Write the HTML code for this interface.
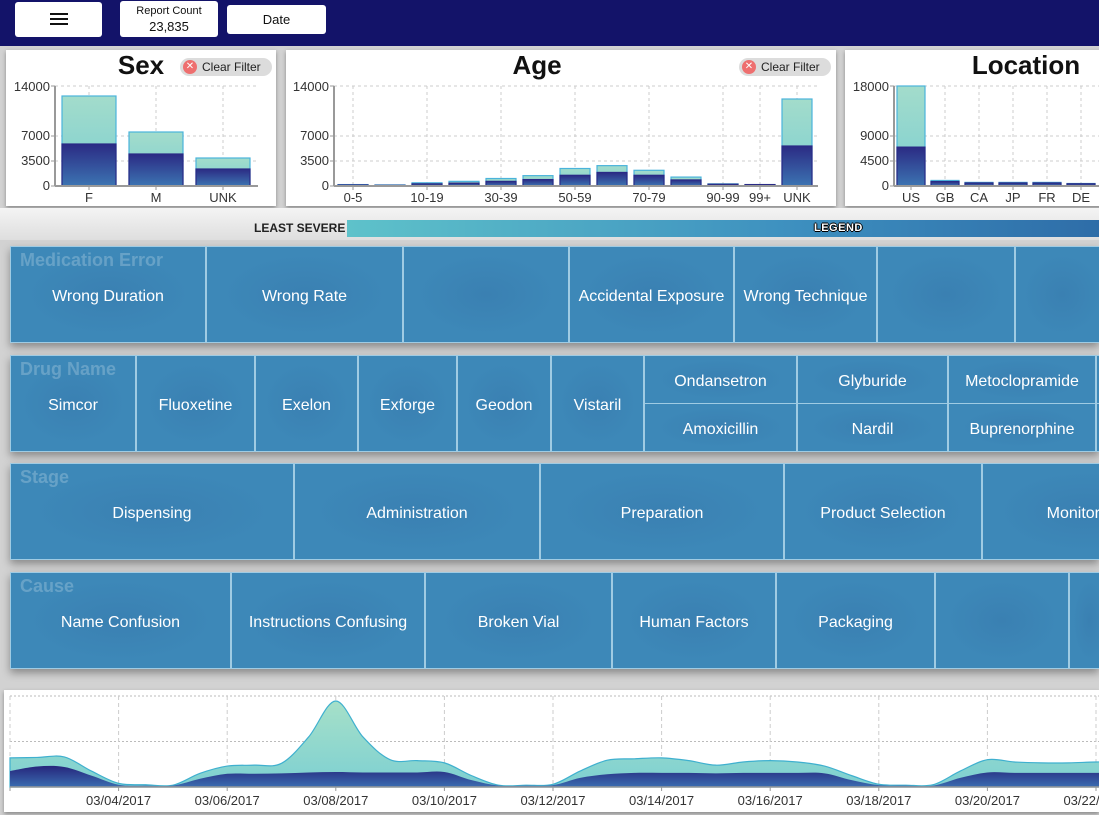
<!DOCTYPE html>
<html><head><meta charset="utf-8">
<style>
body{margin:0;width:1099px;height:815px;overflow:hidden;background:#d2d2d2;font-family:"Liberation Sans",sans-serif;position:relative}
#top{position:absolute;left:0;top:0;width:1099px;height:46px;background:#131369}
.btn{position:absolute;background:#fff;border-radius:3px;text-align:center;color:#111;font-size:13px}
.panel{position:absolute;top:50px;height:156px;background:#fff;box-shadow:0 2px 4px rgba(0,0,0,.35)}
.ptitle{position:absolute;top:50px;font-weight:bold;font-size:26px;color:#111;transform:translateX(-50%)}
.clear{position:absolute;top:58px;height:18px;width:92px;border-radius:9px;background:#dcdcdc;font-size:12px;color:#222;line-height:18px}
.clear i{position:absolute;left:3px;top:2px;width:14px;height:14px;border-radius:7px;background:#ee6f6f;color:#fff;font-style:normal;font-size:10px;line-height:14px;text-align:center}
.clear span{position:absolute;left:22px}
#hl{position:absolute;left:0;top:208px;width:1099px;height:32px;background:linear-gradient(#f4f4f4,#dedede)}
.row{position:absolute;left:10px;width:1089px;height:97px;background:#3d88b8;box-shadow:0 4px 8px rgba(0,0,0,.35);overflow:hidden}
.cell{position:absolute;box-sizing:border-box;border:1px solid #9fcbe3;color:#fff;font-size:16px;display:flex;align-items:center;justify-content:center;white-space:nowrap;padding-top:4px;background:radial-gradient(ellipse at center,#3a80b2 0%,#3d88b8 60%)}
.rt{position:absolute;left:10px;top:4px;font-weight:bold;font-size:18px;color:rgba(255,255,255,.22);z-index:2}
#bot{position:absolute;left:4px;top:690px;width:1095px;height:122px;background:#fff;box-shadow:0 2px 4px rgba(0,0,0,.35)}
svg text{font-family:"Liberation Sans",sans-serif}
</style></head><body>
<div id="top">
 <div class="btn" style="left:15px;top:2px;width:87px;height:35px">
  <div style="position:absolute;left:35px;top:11px;width:18px;height:2px;background:#111;box-shadow:0 5px 0 #111,0 10px 0 #111"></div></div>
 <div class="btn" style="left:120px;top:1px;width:98px;height:36px;font-size:11px;line-height:15px;padding-top:3px;box-sizing:border-box">Report Count<br><span style="font-size:13px">23,835</span></div>
 <div class="btn" style="left:227px;top:5px;width:99px;height:29px;line-height:29px">Date</div>
</div>
<div class="panel" style="left:6px;width:270px"></div>
<div class="panel" style="left:286px;width:550px"></div>
<div class="panel" style="left:845px;width:260px"></div>
<div class="ptitle" style="left:141px">Sex</div>
<div class="ptitle" style="left:537px">Age</div>
<div class="ptitle" style="left:1026px">Location</div>
<div class="clear" style="left:180px"><i>✕</i><span>Clear Filter</span></div>
<div class="clear" style="left:739px"><i>✕</i><span>Clear Filter</span></div>
<div id="hl">
 <div style="position:absolute;left:254px;top:13px;font-size:12px;font-weight:bold;color:#222">LEAST SEVERE</div>
 <div style="position:absolute;left:347px;top:12px;width:752px;height:17px;background:linear-gradient(90deg,#5ec2ca,#3d8fbf 60%,#2e6da8)">
  <div style="position:absolute;left:467px;top:2px;font-size:11px;font-weight:bold;color:#fff;letter-spacing:.5px;text-shadow:-1px 0 #000,1px 0 #000,0 -1px #000,0 1px #000">LEGEND</div></div>
</div>
<div id="rows"></div>
<div id="bot"></div>
<svg id="sv" width="1099" height="815" style="position:absolute;left:0;top:0;pointer-events:none">
<defs>
<linearGradient id="lg" x1="0" y1="0" x2="0" y2="1"><stop offset="0" stop-color="#a3dccb"/><stop offset="1" stop-color="#7ccfd2"/></linearGradient>
<linearGradient id="dg" x1="0" y1="0" x2="0" y2="1"><stop offset="0" stop-color="#2b2b84"/><stop offset="1" stop-color="#3c74b2"/></linearGradient>
<linearGradient id="alg" x1="0" y1="0" x2="0" y2="1"><stop offset="0" stop-color="#a6e0c8"/><stop offset="1" stop-color="#7dd0d2"/></linearGradient>
<linearGradient id="adg" x1="0" y1="0" x2="0" y2="1"><stop offset="0" stop-color="#26267c"/><stop offset="1" stop-color="#3a6cb0"/></linearGradient>
</defs>
</svg>
<script>
// ---- bar chart data ----
const sexCats=["F","M","UNK"];
const sexTotal=[12600,7560,3920];
const sexDark=[5880,4480,2380];
const sexTicks=[0,3500,7000,14000];
const ageCats=["0-5","6-9","10-19","20-29","30-39","40-49","50-59","60-69","70-79","80-89","90-99","99+","UNK"];
const ageLabels=["0-5","","10-19","","30-39","","50-59","","70-79","","90-99","99+","UNK"];
const ageTotal=[200,150,450,650,1050,1450,2450,2850,2200,1250,300,200,12180];
const ageDark=[150,100,300,400,650,900,1500,1900,1500,850,250,200,5600];
const ageTicks=[0,3500,7000,14000];
const locCats=["US","GB","CA","JP","FR","DE","AU"];
const locTotal=[18000,1000,650,650,650,450,400];
const locDark=[7000,800,550,550,550,400,350];
const locTicks=[0,4500,9000,18000];
// ---- timeline data (half-day points from 03/02) ----
const tlTotal=[64,65,66,35,8,5,4,30,46,48,52,110,189,110,60,58,53,25,4,4,6,35,59,62,64,58,48,55,58,55,46,25,6,4,5,35,60,55,53,53,55,55];
const tlDark=[35,45,44,25,5,3,3,18,29,29,30,32,33,32,32,32,33,15,3,3,4,20,28,31,31,31,30,31,31,31,30,15,4,3,3,20,32,31,31,31,31,31];
const tlTickLabels=["03/02/2017","03/04/2017","03/06/2017","03/08/2017","03/10/2017","03/12/2017","03/14/2017","03/16/2017","03/18/2017","03/20/2017","03/22/2017"];
const tlGrid=[100,200];

const NS="http://www.w3.org/2000/svg",sv=document.getElementById('sv');
function mk(t,a,p){const e=document.createElementNS(NS,t);for(const k in a)e.setAttribute(k,a[k]);(p||sv).appendChild(e);return e;}

function barChart(name,cats,labels,tot,dark,ticks,x0,x1,pad,step,bw,gridRight){
  const max=ticks[ticks.length-1],y0=186,yT=86;
  const y=v=>y0-(v/max)*(y0-yT);
  const g=mk('g',{});
  
  
  ticks.forEach(t=>{
    if(t>0){mk('line',{x1:x0,x2:gridRight,y1:y(t),y2:y(t),stroke:'#ccc','stroke-dasharray':'3,3'},g);}
    const tx=mk('text',{x:x0-5,y:y(t)+(t===max?5:4),'text-anchor':'end','font-size':13,fill:'#333'},g);tx.textContent=t;
    
    
    mk('line',{x1:x0-4,x2:x0,y1:y(t),y2:y(t),stroke:'#999'},g);
  });
  cats.forEach((c,i)=>{
    const cx=x0+pad+step*i+bw/2;
    if(!labels||labels[i]) mk('line',{x1:cx,x2:cx,y1:yT,y2:y0,stroke:'#ccc','stroke-dasharray':'3,3'},g);
  });
  cats.forEach((c,i)=>{
    const bx=x0+pad+step*i, cx=bx+bw/2;
    const r1=mk('rect',{x:bx,y:y(tot[i]),width:bw,height:y0-y(tot[i]),fill:'url(#lg)',stroke:'#4ab3db','stroke-width':1.2},g);
    
    
    const r2=mk('rect',{x:bx,y:y(dark[i]),width:bw,height:y0-y(dark[i]),fill:'url(#dg)',stroke:'#2a2a86','stroke-width':1.2},g);
    
    
    const lab=labels?labels[i]:c;
    if(lab){const t=mk('text',{x:cx,y:y0+16,'text-anchor':'middle','font-size':13,fill:'#333'},g);t.textContent=lab;
      
      
      mk('line',{x1:cx,x2:cx,y1:y0,y2:y0+4,stroke:'#999'},g);}
  });
  mk('line',{x1:x0,x2:x0,y1:yT,y2:y0,stroke:'#999','stroke-width':2},g);
  mk('line',{x1:x0,x2:gridRight,y1:y0,y2:y0,stroke:'#999','stroke-width':2},g);
}
barChart('sex',sexCats,null,sexTotal,sexDark,sexTicks,55,258,7,67,54,258);
barChart('age',ageCats,ageLabels,ageTotal,ageDark,ageTicks,334,818,4,37,30,818);
barChart('location',locCats,null,locTotal,locDark,locTicks,894,1099,3,34,28,1099);

// ---- treemap rows ----
const rows=[
 {t:"Medication Error",top:246,cells:[[0,196,"Wrong Duration"],[196,393,"Wrong Rate"],[393,559,""],[559,724,"Accidental Exposure"],[724,867,"Wrong Technique"],[867,1005,""],[1005,1100,""]]},
 {t:"Drug Name",top:355,cells:[[0,126,"Simcor"],[126,245,"Fluoxetine"],[245,348,"Exelon"],[348,447,"Exforge"],[447,541,"Geodon"],[541,634,"Vistaril"]],split:[[634,787,"Ondansetron","Amoxicillin"],[787,938,"Glyburide","Nardil"],[938,1086,"Metoclopramide","Buprenorphine"],[1086,1120,"",""]]},
 {t:"Stage",top:463,cells:[[0,284,"Dispensing"],[284,530,"Administration"],[530,774,"Preparation"],[774,972,"Product Selection"],[972,1176,"Monitoring"]]},
 {t:"Cause",top:572,cells:[[0,221,"Name Confusion"],[221,415,"Instructions Confusing"],[415,602,"Broken Vial"],[602,766,"Human Factors"],[766,925,"Packaging"],[925,1059,""],[1059,1100,""]]}
];
const rc=document.getElementById('rows');
rows.forEach(r=>{
  const d=document.createElement('div');d.className='row';d.style.top=r.top+'px';
  
  
  const tt=document.createElement('div');tt.className='rt';tt.textContent=r.t;d.appendChild(tt);
  
  
  const add=(x0,x1,y0,h,txt)=>{const c=document.createElement('div');c.className='cell';
    c.style.left=x0+'px';c.style.width=(x1-x0)+'px';c.style.top=y0+'px';c.style.height=h+'px';c.textContent=txt;
    
    
    d.appendChild(c);};
  r.cells.forEach(c=>add(c[0],c[1],0,97,c[2]));
  (r.split||[]).forEach(c=>{add(c[0],c[1],0,49,c[2]);add(c[0],c[1],48,49,c[3]);});
  rc.appendChild(d);
});

// ---- timeline ----
(function(){
  const xs=i=>10+27.15*i, yb=787, sc=0.455, y=v=>yb-v*sc;
  const g=mk('g',{});
  
  
  mk('line',{x1:10,x2:1099,y1:696,y2:696,stroke:'#bbb','stroke-dasharray':'2,2'},g);
  tlGrid.forEach(v=>mk('line',{x1:10,x2:1099,y1:y(v),y2:y(v),stroke:'#bbb','stroke-dasharray':'2,2'},g));
  tlTickLabels.forEach((l,k)=>{const x=xs(k*4);
    mk('line',{x1:x,x2:x,y1:696,y2:yb,stroke:'#ccc','stroke-dasharray':'4,3'},g);
    if(k>0){const t=mk('text',{x:x,y:yb+18,'text-anchor':'middle','font-size':13,fill:'#333'},g);t.textContent=l;
    
    }
    mk('line',{x1:x,x2:x,y1:yb,y2:yb+4,stroke:'#999'},g);
  });
  function path(vals){
    const p=vals.map((v,i)=>[xs(i),y(v)]);let d='M'+p[0][0]+','+p[0][1];
    for(let i=0;i<p.length-1;i++){const p0=p[i-1]||p[i],p1=p[i],p2=p[i+1],p3=p[i+2]||p2;
      const c1=[p1[0]+(p2[0]-p0[0])/6,p1[1]+(p2[1]-p0[1])/6],c2=[p2[0]-(p3[0]-p1[0])/6,p2[1]-(p3[1]-p1[1])/6];
      d+=` C${c1[0]},${Math.min(c1[1],yb)} ${c2[0]},${Math.min(c2[1],yb)} ${p2[0]},${p2[1]}`;}
    return d;}
  const cl=mk('clipPath',{id:'tc'},g);mk('rect',{x:8,y:690,width:1091,height:100},cl);
  const a1=mk('path',{d:path(tlTotal)+` L${xs(tlTotal.length-1)},${yb} L10,${yb}Z`,fill:'url(#alg)',stroke:'#3fb0cf','stroke-width':1.2,'clip-path':'url(#tc)'},g);
  
  
  const a2=mk('path',{d:path(tlDark)+` L${xs(tlDark.length-1)},${yb} L10,${yb}Z`,fill:'url(#adg)','clip-path':'url(#tc)'},g);
  
  
  mk('line',{x1:10,x2:1099,y1:yb,y2:yb,stroke:'#999','stroke-width':1.5},g);
})();
</script>
</body></html>
